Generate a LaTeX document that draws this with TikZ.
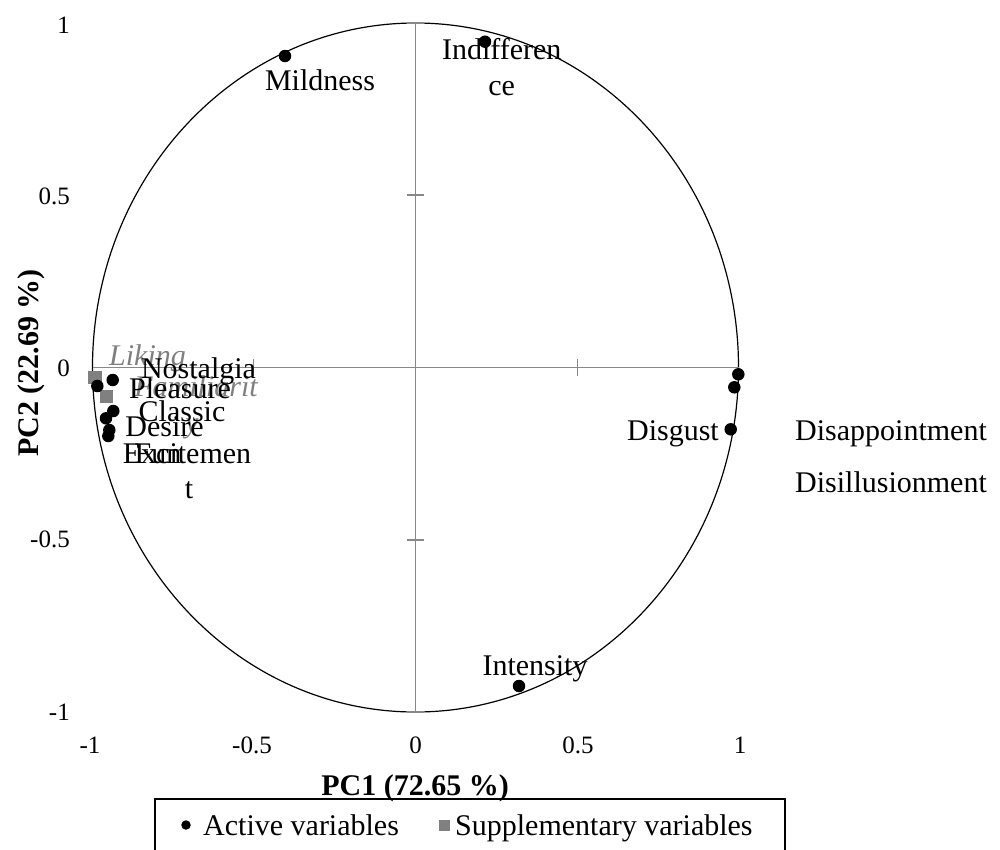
\documentclass[tikz,border=0pt]{standalone}
\usepackage{fontspec}
\setmainfont{Liberation Serif}
\definecolor{axgray}{HTML}{888888}
\definecolor{supgray}{HTML}{808080}
\definecolor{labgray}{HTML}{7F7F7F}
\begin{document}
\begin{tikzpicture}[x=1pt,y=-1pt,
  axisline/.style={draw=axgray, line width=1.8pt},
  dot/.style={circle, fill=black, inner sep=0pt, minimum size=12.5pt},
  sq/.style={rectangle, fill=supgray, inner sep=0pt, minimum size=13.5pt},
  lab/.style={font=\fontsize{30}{36}\selectfont, anchor=base, inner sep=0pt},
  suplab/.style={font=\fontsize{30}{36}\selectfont\itshape, text=labgray, anchor=base, inner sep=0pt},
  ticklab/.style={font=\fontsize{25}{30}\selectfont, anchor=base, inner sep=0pt},
  axtitle/.style={font=\fontsize{30}{36}\selectfont\bfseries, anchor=base, inner sep=0pt},
]
\useasboundingbox (0,0) rectangle (1000,849);
% circle and axes
\draw[line width=1.2pt] (415.5,367.5) ellipse [x radius=323, y radius=344.5];
\coordinate (xl) at (92.5,367.5);
\coordinate (xr) at (738.5,367.5);
\coordinate (yt) at (415.5,23);
\coordinate (yb) at (415.5,712);
\draw[axisline] (xl) -- (xr);
\draw[axisline] (yt) -- (yb);
\foreach \x in {253.5,577.5} \draw[axisline] (\x,359) -- (\x,376);
\foreach \y in {23,195.25,539.75,712} \draw[axisline] (407,\y) -- (424,\y);
% tick labels
\node[ticklab, anchor=base east] (ty1) at (70,33) {1};
\node[ticklab, anchor=base east] (ty2) at (70,204) {0.5};
\node[ticklab, anchor=base east] (ty3) at (70,376) {0};
\node[ticklab, anchor=base east] (ty4) at (70,547) {-0.5};
\node[ticklab, anchor=base east] (ty5) at (70,720) {-1};
\node[ticklab] (tx1) at (90,753) {-1};
\node[ticklab] (tx2) at (252,753) {-0.5};
\node[ticklab] (tx3) at (415.5,753) {0};
\node[ticklab] (tx4) at (578,753) {0.5};
\node[ticklab] (tx5) at (740,753) {1};
% axis titles
\node[axtitle] (pc1) at (415,795) {PC1 (72.65 \%)};
\node[axtitle, rotate=90] (pc2) at (38,363) {PC2 (22.69 \%)};
% supplementary variables
\node[sq] (lik) at (95,377.7) {};
\node[sq] (fam) at (106.7,396.7) {};
% active variables
\node[dot] (nos) at (112.7,380) {};
\node[dot] (plea) at (97.3,386) {};
\node[dot] (cla) at (113.3,411) {};
\node[dot] (des) at (106,418.3) {};
\node[dot] (fun) at (109.3,430) {};
\node[dot] (exc) at (108.3,436) {};
\node[dot] (mil) at (285,56) {};
\node[dot] (ind) at (485,41.7) {};
\node[dot] (disa) at (738.3,374.3) {};
\node[dot] (disi) at (734.3,387.3) {};
\node[dot] (disg) at (730.7,429.3) {};
\node[dot] (int) at (519,686) {};
% labels
\node[suplab] (likl) at (147.5,365) {Liking};
\node[suplab] (faml1) at (196,396) {Familiarit};
\node[suplab] (faml2) at (192,432) {y};
\node[lab] (nosl) at (198.5,378) {Nostalgia};
\node[lab] (peal) at (180,398) {Pleasure};
\node[lab] (clal) at (182,421) {Classic};
\node[lab] (desl) at (164.5,436) {Desire};
\node[lab] (excl1) at (187,463) {Excitemen};
\node[lab] (excl2) at (189,498) {t};
\node[lab] (funl) at (158,463) {Fun};
\node[lab] (mill) at (320,90) {Mildness};
\node[lab] (indl1) at (501.7,59) {Indifferen};
\node[lab] (indl2) at (501.7,95) {ce};
\node[lab] (disal) at (891,440) {Disappointment};
\node[lab] (disil) at (891,492) {Disillusionment};
\node[lab, anchor=base east] (disgl) at (719,440) {Disgust};
\node[lab] (intl) at (535,675) {Intensity};
% legend
\node[draw, line width=1.5pt, minimum width=630pt, minimum height=90pt, anchor=north west, inner sep=0pt] (legend) at (154,798) {};
\node[dot, minimum size=9.5pt] (legdot) at (186,825) {};
\node[lab, anchor=base west] (legact) at (203,835) {Active variables};
\node[sq, minimum size=11pt] (legsq) at (444,825) {};
\node[lab, anchor=base west] (legsup) at (455,835) {Supplementary variables};
\end{tikzpicture}
\end{document}
